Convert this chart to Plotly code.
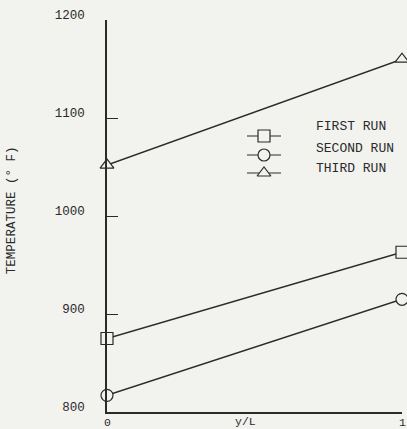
import plotly.graph_objects as go

# Data
x_pos = [0, 1]
first_run = [875, 963]
second_run = [817, 915]
third_run = [1052, 1160]
series_names = ["FIRST RUN", "SECOND RUN", "THIRD RUN"]
series_symbols = ["square", "circle", "triangle-up"]
y_ticks = [800, 900, 1000, 1100, 1200]
x_ticks = [0, 1]
x_tick_labels = ["0", "1"]

FONT = "Liberation Mono, Courier New, monospace"
INK = "#2a2a2a"
BG = "#f2f2ef"

fig = go.Figure()
for vals, sym in zip([first_run, second_run, third_run], series_symbols):
    fig.add_trace(go.Scatter(
        x=x_pos, y=vals, mode="lines+markers",
        line=dict(color=INK, width=1.5),
        marker=dict(symbol=sym, size=12, color=BG, line=dict(width=1.2, color=INK)),
        cliponaxis=False, showlegend=False,
    ))

# Custom legend on an overlay axis (pixel-like coordinates of the plot area)
leg_x = 264
leg_rows_y = [136, 155, 173]
leg_text_y = [126, 148, 168]
for sym, yy in zip(series_symbols, leg_rows_y):
    fig.add_trace(go.Scatter(
        x=[leg_x - 17, leg_x + 17], y=[yy, yy], mode="lines",
        line=dict(color=INK, width=1.2), xaxis="x2", yaxis="y2",
        showlegend=False, hoverinfo="skip",
    ))
    fig.add_trace(go.Scatter(
        x=[leg_x], y=[yy], mode="markers",
        marker=dict(symbol=sym, size=12, color=BG, line=dict(width=1.2, color=INK)),
        xaxis="x2", yaxis="y2", showlegend=False, hoverinfo="skip",
    ))
for name, yy in zip(series_names, leg_text_y):
    fig.add_annotation(x=314, y=yy, xref="x2", yref="y2", text=name,
                       showarrow=False, xanchor="left", yanchor="middle",
                       font=dict(family=FONT, size=13, color=INK))

# x tick labels and axis title on the same row, just under the axis
for xv, lab in zip(x_ticks, x_tick_labels):
    fig.add_annotation(x=xv, y=0, xref="x", yref="paper", text=lab,
                       showarrow=False, xanchor="center", yanchor="middle",
                       yshift=-10, font=dict(family=FONT, size=11.5, color=INK))
fig.add_annotation(x=0.47, y=0, xref="x", yref="paper", text="y/L",
                   showarrow=False, xanchor="center", yanchor="middle", yshift=-9,
                   font=dict(family=FONT, size=11.5, color=INK))
fig.add_annotation(x=-0.322, y=0.515, xref="paper", yref="paper", text="TEMPERATURE (° F)",
                   showarrow=False, textangle=-90, xanchor="center", yanchor="middle",
                   font=dict(family=FONT, size=12.5, color=INK))

fig.update_layout(
    width=407, height=429,
    margin=dict(l=107, r=5, t=20, b=17),
    paper_bgcolor=BG, plot_bgcolor=BG,
    xaxis=dict(range=[0, 1], showgrid=False, zeroline=False, showline=True,
               linecolor=INK, linewidth=1.5, ticks="inside", ticklen=8,
               tickcolor=INK, tickvals=x_ticks, showticklabels=False,
               automargin=False),
    yaxis=dict(range=[800, 1200], showgrid=False, zeroline=False, showline=True,
               linecolor=INK, linewidth=1.5, ticks="inside", ticklen=11,
               tickcolor=INK, tickvals=y_ticks, ticklabelstandoff=18,
               ticklabelshift=-5, automargin=False,
               tickfont=dict(family=FONT, size=12.5, color=INK)),
    xaxis2=dict(range=[107, 402], overlaying="x", visible=False, fixedrange=True),
    yaxis2=dict(range=[412, 20], overlaying="y", visible=False, fixedrange=True),
    showlegend=False,
)

fig.write_html("out.html", config={"displayModeBar": False},
               post_script="document.body.style.margin='0';document.body.style.background='%s';" % BG)
